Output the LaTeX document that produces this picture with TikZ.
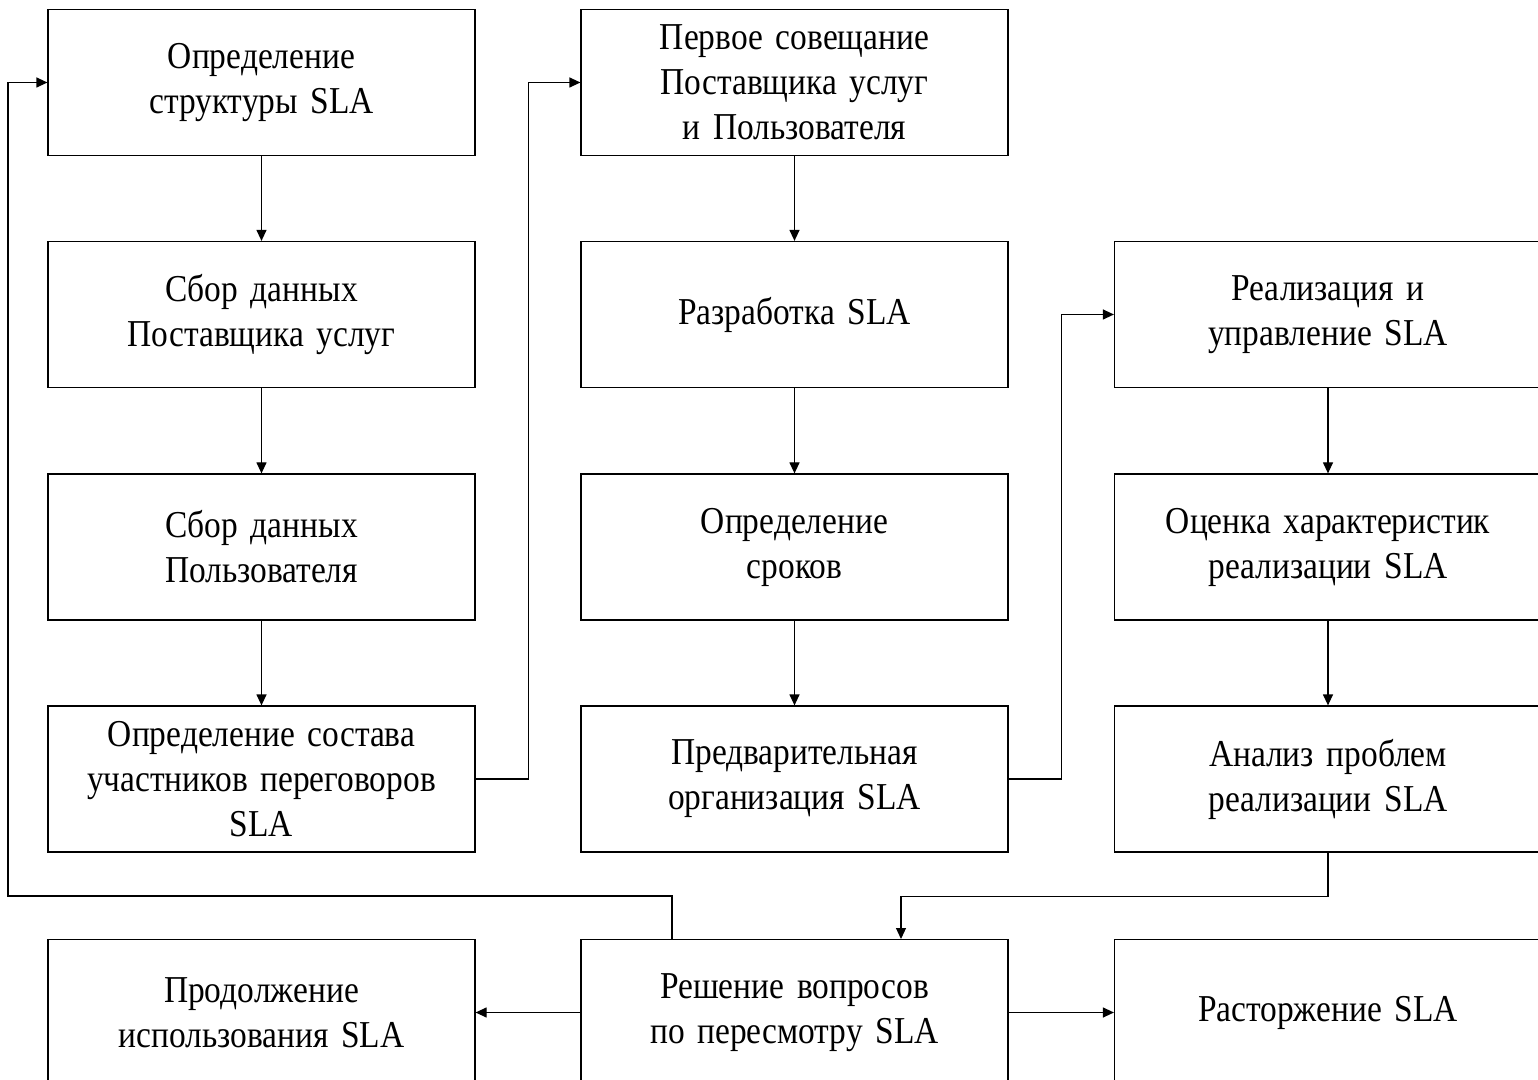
\documentclass[tikz,border=0pt]{standalone}
\usepackage{fontspec}
\setmainfont{Liberation Serif}[FakeStretch=0.88, WordSpace=0.8]
\usepackage{tikz}
\usetikzlibrary{arrows.meta, positioning, calc}

\tikzset{
  stagebox/.style={draw=black, line width=0.6pt, minimum width=213.5pt, minimum height=73pt,
    text width=205pt, align=center, inner sep=0pt, font=\fontsize{19}{22.5}\selectfont},
  arr/.style={-{Triangle[length=5.5pt, width=5pt]}, line width=0.6pt}
}

\begin{document}
\begin{tikzpicture}[x=0.5pt, y=-0.5pt]
  \useasboundingbox (0,0) rectangle (1538,1080);

  % first column
  \node[stagebox] (struct) at (261.5, 82.5) {Определение\\структуры SLA};
  \node[stagebox] (provdata) at (261.5, 314.5) {Сбор данных\\Поставщика услуг};
  \node[stagebox] (userdata) at (261.5, 547) {Сбор данных\\Пользователя};
  \node[stagebox] (members) at (261.5, 779) {Определение состава\\участников переговоров\\SLA};

  % second column
  \node[stagebox] (meeting) at (794.5, 82.5) {Первое совещание\\Поставщика услуг\\и Пользователя};
  \node[stagebox] (develop) at (794.5, 314.5) {Разработка SLA};
  \node[stagebox] (terms) at (794.5, 547) {Определение\\сроков};
  \node[stagebox] (prelim) at (794.5, 779) {Предварительная\\организация SLA};

  % third column
  \node[stagebox] (manage) at (1328, 314.5) {Реализация и\\управление SLA};
  \node[stagebox] (assess) at (1328, 547) {Оценка характеристик\\реализации SLA};
  \node[stagebox] (analyse) at (1328, 779) {Анализ проблем\\реализации SLA};

  % bottom row
  \node[stagebox] (resume) at (261.5, 1012.5) {Продолжение\\использования SLA};
  \node[stagebox] (review) at (794.5, 1012.5) {Решение вопросов\\по пересмотру SLA};
  \node[stagebox] (cancel) at (1328, 1012.5) {Расторжение SLA};

  \coordinate (reviewin) at (901, 939);
  \coordinate (reviewout) at (672, 939);

  % arrows inside the columns
  \draw[arr] (struct) -- (provdata);
  \draw[arr] (provdata) -- (userdata);
  \draw[arr] (userdata) -- (members);
  \draw[arr] (meeting) -- (develop);
  \draw[arr] (develop) -- (terms);
  \draw[arr] (terms) -- (prelim);
  \draw[arr] (manage) -- (assess);
  \draw[arr] (assess) -- (analyse);

  % arrows between the columns
  \draw[arr] (members.east) -- ++(53,0) |- (meeting.west);
  \draw[arr] (prelim.east) -- ++(53,0) |- (manage.west);
  \draw[arr] (analyse.south) -- ++(0,44) -| (reviewin);
  \draw[arr] (reviewout) -- ++(0,-43) -- ++(-664,0) |- (struct.west);

  % outcomes
  \draw[arr] (review) -- (resume);
  \draw[arr] (review) -- (cancel);
\end{tikzpicture}
\end{document}
